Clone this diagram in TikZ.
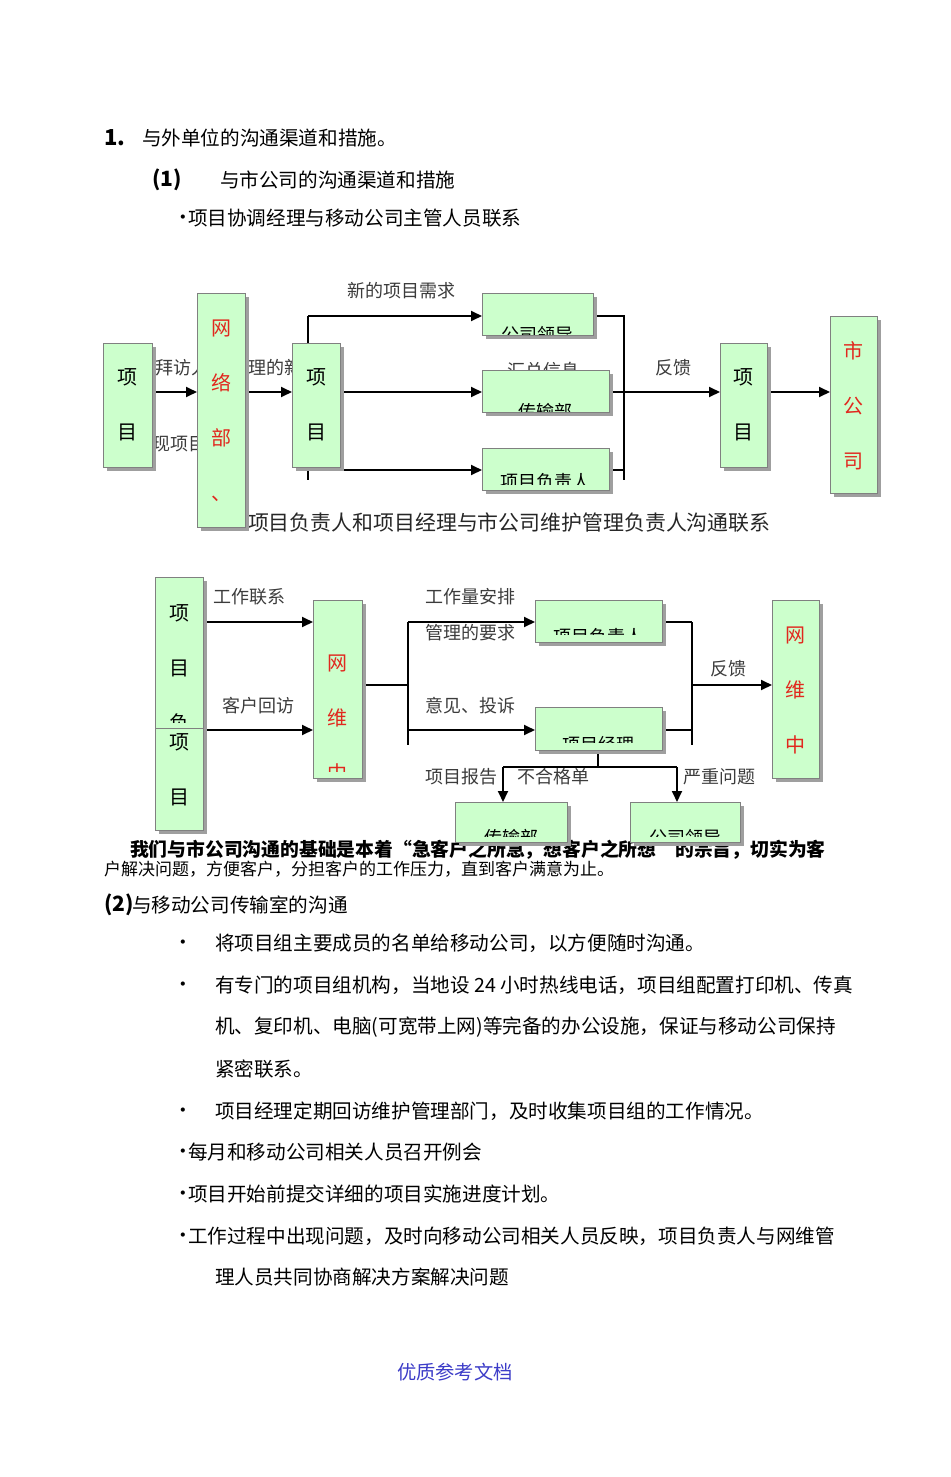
\documentclass[tikz,border=0pt]{standalone}
\usepackage{fontspec}
\setmainfont{Noto Sans CJK SC}
\usepackage{tikz}
\usetikzlibrary{arrows.meta}
\usetikzlibrary{shadows}
\pgfdeclarelayer{bg}
\pgfsetlayers{bg,main}
\definecolor{boxgreen}{RGB}{204,255,204}
\definecolor{boxline}{RGB}{128,128,128}
\definecolor{wred}{RGB}{225,40,30}
\definecolor{lblgray}{RGB}{60,60,60}
\definecolor{footblue}{RGB}{60,60,200}
\newcommand\bul{\makebox[6pt]{•}}

\begin{document}
\begin{tikzpicture}[x=1pt,y=-1pt]
\tikzset{every node/.style={inner sep=0pt, outer sep=0pt}}
\tikzset{txt/.style={anchor=west, font=\fontsize{19.6}{20}\selectfont}}
\tikzset{dot/.style={txt, anchor=center}}
\tikzset{lbl/.style={anchor=west, text=lblgray, font=\fontsize{18}{18}\selectfont}}
\tikzset{box/.style={draw=boxline, line width=1pt, fill=boxgreen, general shadow={fill=gray!75, shadow xshift=3.5pt, shadow yshift=-3.5pt}}}
\tikzset{hcut/.style n args={3}{path picture={\clip (path picture bounding box.north west) rectangle ([yshift=#3]path picture bounding box.south east); \node[font=\fontsize{18}{18}\selectfont] at ([yshift=#2]path picture bounding box.center) {#1};}}}
\tikzset{vcut/.style n args={4}{path picture={\clip (path picture bounding box.north west) rectangle ([yshift=#3]path picture bounding box.south east); \node[align=center, text=#4, font=\fontsize{20}{55}\selectfont] at ([yshift=#2]path picture bounding box.center) {#1};}}}
\tikzset{link/.style={line width=1.8pt}}
\tikzset{arr/.style={link, -{Triangle[length=11pt,width=10pt]}}}
\tikzset{wire/.style={line width=1.1pt}}
\useasboundingbox (0,0) rectangle (950,1477);

% headings
\node[txt, font=\bfseries\fontsize{22}{22}\selectfont] (h1) at (104,138) {1.};
\node[txt] (h1t) at (142,138) {与外单位的沟通渠道和措施。};
\node[txt, font=\bfseries\fontsize{21}{21}\selectfont] (h2) at (152,180) {(1)};
\node[txt] (h2t) at (220,180) {与市公司的沟通渠道和措施};
\node[dot] (h3d) at (183,220) {\bul};
\node[txt] (h3) at (188,218) {项目协调经理与移动公司主管人员联系};

% upper chart
\node[box, minimum width=49pt, minimum height=124pt, vcut={项\\目}{0}{0}{black}] (xm1) at (127.5,405) {};
\node[box, minimum width=48pt, minimum height=234pt, vcut={网\\络\\部\\、\vphantom{项}}{-1}{0}{wred}] (wl) at (221,410) {};
\node[box, minimum width=48pt, minimum height=124pt, vcut={项\\目}{0}{0}{black}] (xm2) at (316,405) {};
\node[box, minimum width=111pt, minimum height=42pt, hcut={公司领导}{-21}{0}] (ld1) at (537.5,314) {};
\node[box, minimum width=127pt, minimum height=42pt, hcut={传输部}{-21}{0}] (cs1) at (545.5,391) {};
\node[box, minimum width=127pt, minimum height=42pt, hcut={项目负责人}{-13}{6}] (fz1) at (545.5,469) {};
\node[box, minimum width=47pt, minimum height=124pt, vcut={项\\目}{0}{0}{black}] (xm3) at (743.5,405) {};
\node[box, minimum width=47pt, minimum height=177pt, vcut={市\\公\\司}{-1}{0}{wred}] (sgs) at (853.5,404.5) {};

% lower chart
\node[box, minimum width=48pt, minimum height=151pt, vcut={项\\目\\负}{-15.5}{6}{black}] (xm4) at (179,652.5) {};
\node[box, minimum width=48pt, minimum height=102pt, vcut={项\\目}{9.5}{0}{black}] (xm5) at (179,779) {};
\node[box, minimum width=49pt, minimum height=178pt, vcut={网\\维\\中}{-29.5}{7}{wred}] (ww1) at (337.5,689) {};
\node[box, minimum width=127pt, minimum height=42pt, hcut={项目负责人}{-16}{8}] (fz2) at (598.5,621) {};
\node[box, minimum width=127pt, minimum height=43pt, hcut={项目经理}{-16.5}{7.5}] (jl) at (598.5,728.5) {};
\node[box, minimum width=47pt, minimum height=178pt, vcut={网\\维\\中}{-1}{0}{wred}] (ww2) at (795.5,689) {};
\node[box, minimum width=112pt, minimum height=40pt, hcut={传输部}{-16}{6}] (cs2) at (511,822) {};
\node[box, minimum width=110pt, minimum height=40pt, hcut={公司领导}{-16}{6}] (ld2) at (685,822) {};

\begin{pgfonlayer}{bg}
\fill[white] (0,0) rectangle (950,1477);
% upper labels
\node[lbl] (ul1) at (347,291) {新的项目需求};
\node[lbl] (ul2) at (507,371) {汇总信息};
\node[lbl] (ul3) at (655,368) {反馈};
\node[lbl] (ul4) at (155,368) {拜访人};
\node[lbl] (ul5) at (248,368) {理的新};
\node[lbl] (ul6) at (152,444) {现项目};
\node[txt, text=black!85, font=\fontsize{20.9}{21}\selectfont] (cap) at (248,523) {项目负责人和项目经理与市公司维护管理负责人沟通联系};
% upper links
\coordinate (jt) at (308,316);
\coordinate (jm) at (308,470);
\coordinate (jb) at (308,480);
\coordinate (kt) at (624,316);
\coordinate (kb) at (624,480);
\draw[arr] (xm1.east |- 0,392) -- (wl.west |- 0,392);
\draw[arr] (wl.east |- 0,392) -- (xm2.west |- 0,392);
\draw[wire] (jt) -- (jb);
\draw[arr] (jt) -- (ld1.west |- jt);
\draw[arr] (xm2.east |- 0,392) -- (cs1.west |- 0,392);
\draw[arr] (jm) -- (fz1.west |- jm);
\draw[wire] (ld1.east |- kt) -- (kt) -- (kb);
\draw[wire] (fz1.east |- jm) -- (kb |- jm);
\draw[arr] (cs1.east |- 0,392) -- (xm3.west |- 0,392);
\draw[arr] (xm3.east |- 0,392) -- (sgs.west |- 0,392);

% lower labels
\node[lbl] (dl1) at (213,597) {工作联系};
\node[lbl] (dl2) at (222,706) {客户回访};
\node[lbl] (dl3) at (425,597) {工作量安排};
\node[lbl] (dl4) at (425,633) {管理的要求};
\node[lbl] (dl5) at (425,706) {意见、投诉};
\node[lbl] (dl6) at (710,669) {反馈};
\node[lbl] (dl7) at (425,777) {项目报告};
\node[lbl] (dl8) at (517,777) {不合格单};
\node[lbl] (dl9) at (683,777) {严重问题};
% lower links
\coordinate (gt) at (408,622);
\coordinate (gm) at (408,730);
\coordinate (gb) at (408,745);
\coordinate (ht) at (692,622);
\coordinate (hb) at (692,745);
\coordinate (dm) at (598,767);
\coordinate (dl) at (503,767);
\coordinate (dr) at (677,767);
\draw[arr] (xm4.east |- gt) -- (ww1.west |- gt);
\draw[arr] (xm5.east |- gm) -- (ww1.west |- gm);
\draw[wire] (ww1.east |- 0,685) -- (gt |- 0,685);
\draw[link] (gt) -- (gb);
\draw[arr] (gt) -- (fz2.west |- gt);
\draw[arr] (gm) -- (jl.west |- gm);
\draw[wire] (fz2.east |- ht) -- (ht);
\draw[wire] (jl.east |- gm) -- (hb |- gm);
\draw[link] (ht) -- (hb);
\draw[arr] (ht |- 0,685) -- (ww2.west |- 0,685);
\draw[link] (jl.south -| dm) -- (dm);
\draw[link] (dl) -- (dr);
\draw[arr] (dl) -- (cs2.north -| dl);
\draw[arr] (dr) -- (ld2.north -| dr);

% text below the charts
\node[txt, font=\bfseries\fontsize{18.8}{19}\selectfont] (pa1) at (130,850) {我们与市公司沟通的基础是本着“急客户之所急，想客户之所想”的宗旨，切实为客};
\end{pgfonlayer}
\node[txt, font=\fontsize{17}{17}\selectfont] (pa2) at (104,869) {户解决问题，方便客户，分担客户的工作压力，直到客户满意为止。};
\node[txt, font=\bfseries\fontsize{21}{21}\selectfont] (h4) at (104,905) {(2)};
\node[txt] (h4t) at (132,905) {与移动公司传输室的沟通};
\node[dot] (b1) at (183,945) {\bul};
\node[txt] (t1) at (215,943) {将项目组主要成员的名单给移动公司，以方便随时沟通。};
\node[dot] (b2) at (183,987) {\bul};
\node[txt] (t2) at (215,985) {有专门的项目组机构，当地设 24 小时热线电话，项目组配置打印机、传真};
\node[txt] (t3) at (215,1027) {机、复印机、电脑(可宽带上网)等完备的办公设施，保证与移动公司保持};
\node[txt] (t4) at (215,1069) {紧密联系。};
\node[dot] (b3) at (183,1113) {\bul};
\node[txt] (t5) at (215,1111) {项目经理定期回访维护管理部门，及时收集项目组的工作情况。};
\node[dot] (b4) at (183,1154) {\bul};
\node[txt] (t6) at (188,1152) {每月和移动公司相关人员召开例会};
\node[dot] (b5) at (183,1196) {\bul};
\node[txt] (t7) at (188,1194) {项目开始前提交详细的项目实施进度计划。};
\node[dot] (b6) at (183,1238) {\bul};
\node[txt] (t8) at (188,1236) {工作过程中出现问题，及时向移动公司相关人员反映，项目负责人与网维管};
\node[txt] (t9) at (215,1277) {理人员共同协商解决方案解决问题};
\node[txt, text=footblue, font=\fontsize{19.3}{19}\selectfont] (ft) at (397,1372) {优质参考文档};
\end{tikzpicture}
\end{document}
